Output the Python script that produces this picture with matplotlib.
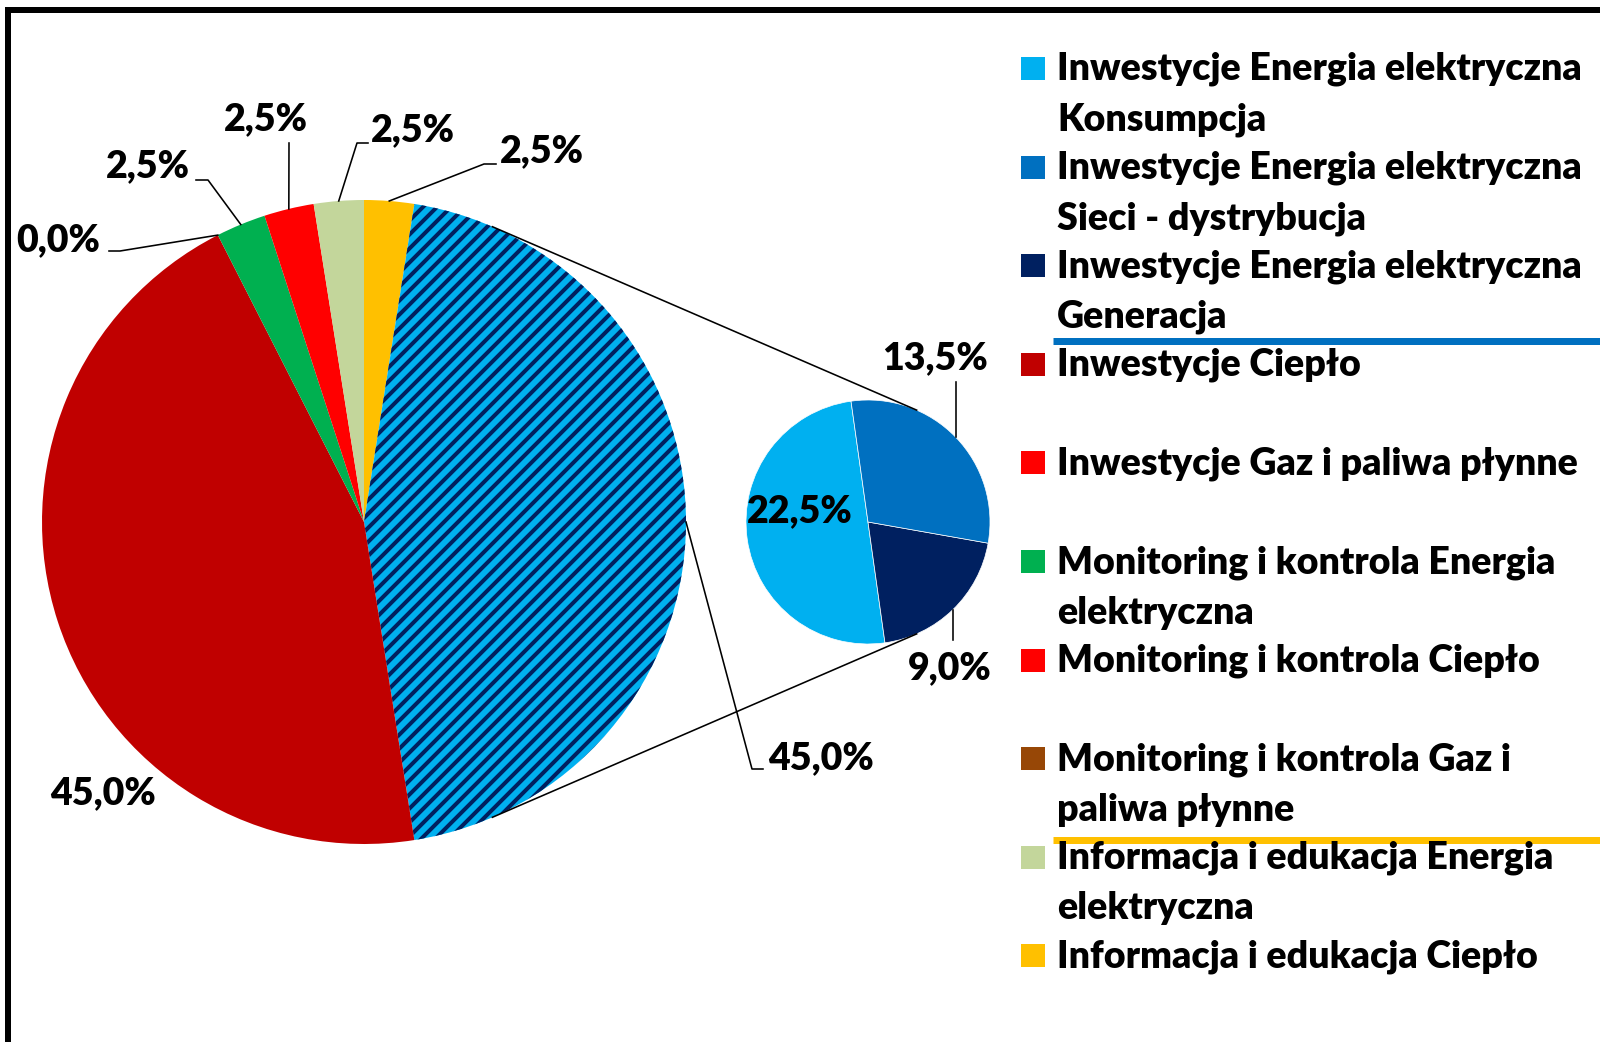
import numpy as np
import matplotlib
matplotlib.use('Agg')
import matplotlib.pyplot as plt
from matplotlib.patches import Rectangle

W, H = 1600, 1042
DPI = 84  # hatch spacing follows dpi; 84 with '//' gives the ~14 px stripes of the original

legend_labels = [
    'Inwestycje Energia elektryczna\nKonsumpcja',
    'Inwestycje Energia elektryczna\nSieci - dystrybucja',
    'Inwestycje Energia elektryczna\nGeneracja',
    'Inwestycje Ciepło',
    'Inwestycje Gaz i paliwa płynne',
    'Monitoring i kontrola Energia\nelektryczna',
    'Monitoring i kontrola Ciepło',
    'Monitoring i kontrola Gaz i\npaliwa płynne',
    'Informacja i edukacja Energia\nelektryczna',
    'Informacja i edukacja Ciepło',
]
legend_colors = ['#00B0F0', '#0070C0', '#002060', '#C00000', '#FF0000',
                 '#00B050', '#FF0000', '#974706', '#C3D69B', '#FFC000']

# secondary pie - electricity investments (Konsumpcja, Generacja, Sieci)
sub_values = [22.5, 9.0, 13.5]
sub_colors = ['#00B0F0', '#002060', '#0070C0']

# main pie, clockwise from 12 o'clock; 2nd slice = sum of the secondary pie
main_values = [2.5, sum(sub_values), 45.0, 0.0, 2.5, 2.5, 2.5]
main_colors = ['#FFC000', '#00B0F0', '#C00000', '#FF0000', '#00B050', '#FF0000', '#C3D69B']


def Y(y):
    return H - y


def pt(px):
    return px * 72.0 / DPI


def pct(v):
    return ('%.1f%%' % v).replace('.', ',')


def edge(c, r, ang):
    a = np.radians(ang)
    return c[0] + r * np.cos(a), c[1] + r * np.sin(a)


plt.rcParams['font.family'] = ['Lato', 'DejaVu Sans']
plt.rcParams['font.weight'] = 'heavy'
plt.rcParams['hatch.linewidth'] = pt(4.0)
fs = pt(37.5)
lw = pt(1.6)

fig = plt.figure(figsize=(W / DPI, H / DPI), dpi=DPI)
ax = fig.add_axes([0, 0, 1, 1])

mc, mr = (364, Y(522)), 322
sc, sr = (868, Y(522)), 122

wm, _ = ax.pie(main_values, colors=main_colors, startangle=90, counterclock=False,
               center=mc, radius=mr, frame=True, wedgeprops=dict(linewidth=0))
wm[1].set_hatch('//')
wm[1].set_edgecolor('#002060')
wm[1].set_linewidth(0)

ws, _ = ax.pie(sub_values, colors=sub_colors, startangle=98, counterclock=True,
               center=sc, radius=sr, frame=True,
               wedgeprops=dict(linewidth=pt(0.7), edgecolor='white'))

ax.set_xlim(0, W)
ax.set_ylim(0, H)
ax.set_aspect('equal')
ax.axis('off')

# connector lines between the pies
for a in (66.5, -66.5):
    p1 = edge(mc, mr, a)
    p2 = edge(sc, sr, a)
    ax.plot([p1[0], p2[0]], [p1[1], p2[1]], color='black', lw=lw)

# main pie labels: (text x, text y, ha, leader elbow points)
main_lab = [
    (500, 151, 'left', [(484, 164), (496, 164)]),
    (768, 758, 'left', [(752, 769), (763, 769)]),
    (103, 793, 'center', None),
    (58, 240, 'center', [(120, 251), (109, 251)]),
    (148, 166, 'center', [(208, 180), (196, 180)]),
    (266, 119, 'center', [(289, 143)]),
    (413, 130, 'center', [(357, 143), (368, 143)]),
]
for w, v, (tx, ty, ha, pts) in zip(wm, main_values, main_lab):
    ax.text(tx, Y(ty), pct(v), fontsize=fs, ha=ha, va='center')
    if pts:
        mid = (w.theta1 + w.theta2) / 2
        x0, y0 = edge(mc, mr, mid)
        xs = [x0] + [p[0] for p in pts]
        ys = [y0] + [Y(p[1]) for p in pts]
        ax.plot(xs, ys, color='black', lw=lw)

sub_lab = [
    (800, 511, None),
    (950, 668, 640),
    (935, 358, 382),
]
for w, v, (tx, ty, ly) in zip(ws, sub_values, sub_lab):
    ax.text(tx, Y(ty), pct(v), fontsize=fs, ha='center', va='center')
    if ly:
        mid = (w.theta1 + w.theta2) / 2
        x0, y0 = edge(sc, sr, mid)
        ax.plot([x0, x0], [y0, Y(ly)], color='black', lw=lw)

# legend, drawn by hand (Excel style: first line aligned with the marker)
base0, step, lstep = 80, 98.6, 50.5
for i, (lab, col) in enumerate(zip(legend_labels, legend_colors)):
    yb = base0 + i * step
    ax.add_patch(Rectangle((1021, Y(yb)), 24, 23, color=col, lw=0))
    for j, line in enumerate(lab.split('\n')):
        ax.text(1057, Y(yb + j * lstep), line, fontsize=fs, ha='left', va='baseline')

ax.plot([1053, W], [Y(341), Y(341)], color='#0070C0', lw=pt(7), solid_capstyle='butt')
ax.plot([1053, W], [Y(840), Y(840)], color='#FFC000', lw=pt(7), solid_capstyle='butt')

# outer frame
ax.add_patch(Rectangle((8, Y(1100)), 1700, 1090, fill=False, edgecolor='black', lw=pt(6)))

fig.savefig('out.png', dpi=DPI, facecolor='white')
